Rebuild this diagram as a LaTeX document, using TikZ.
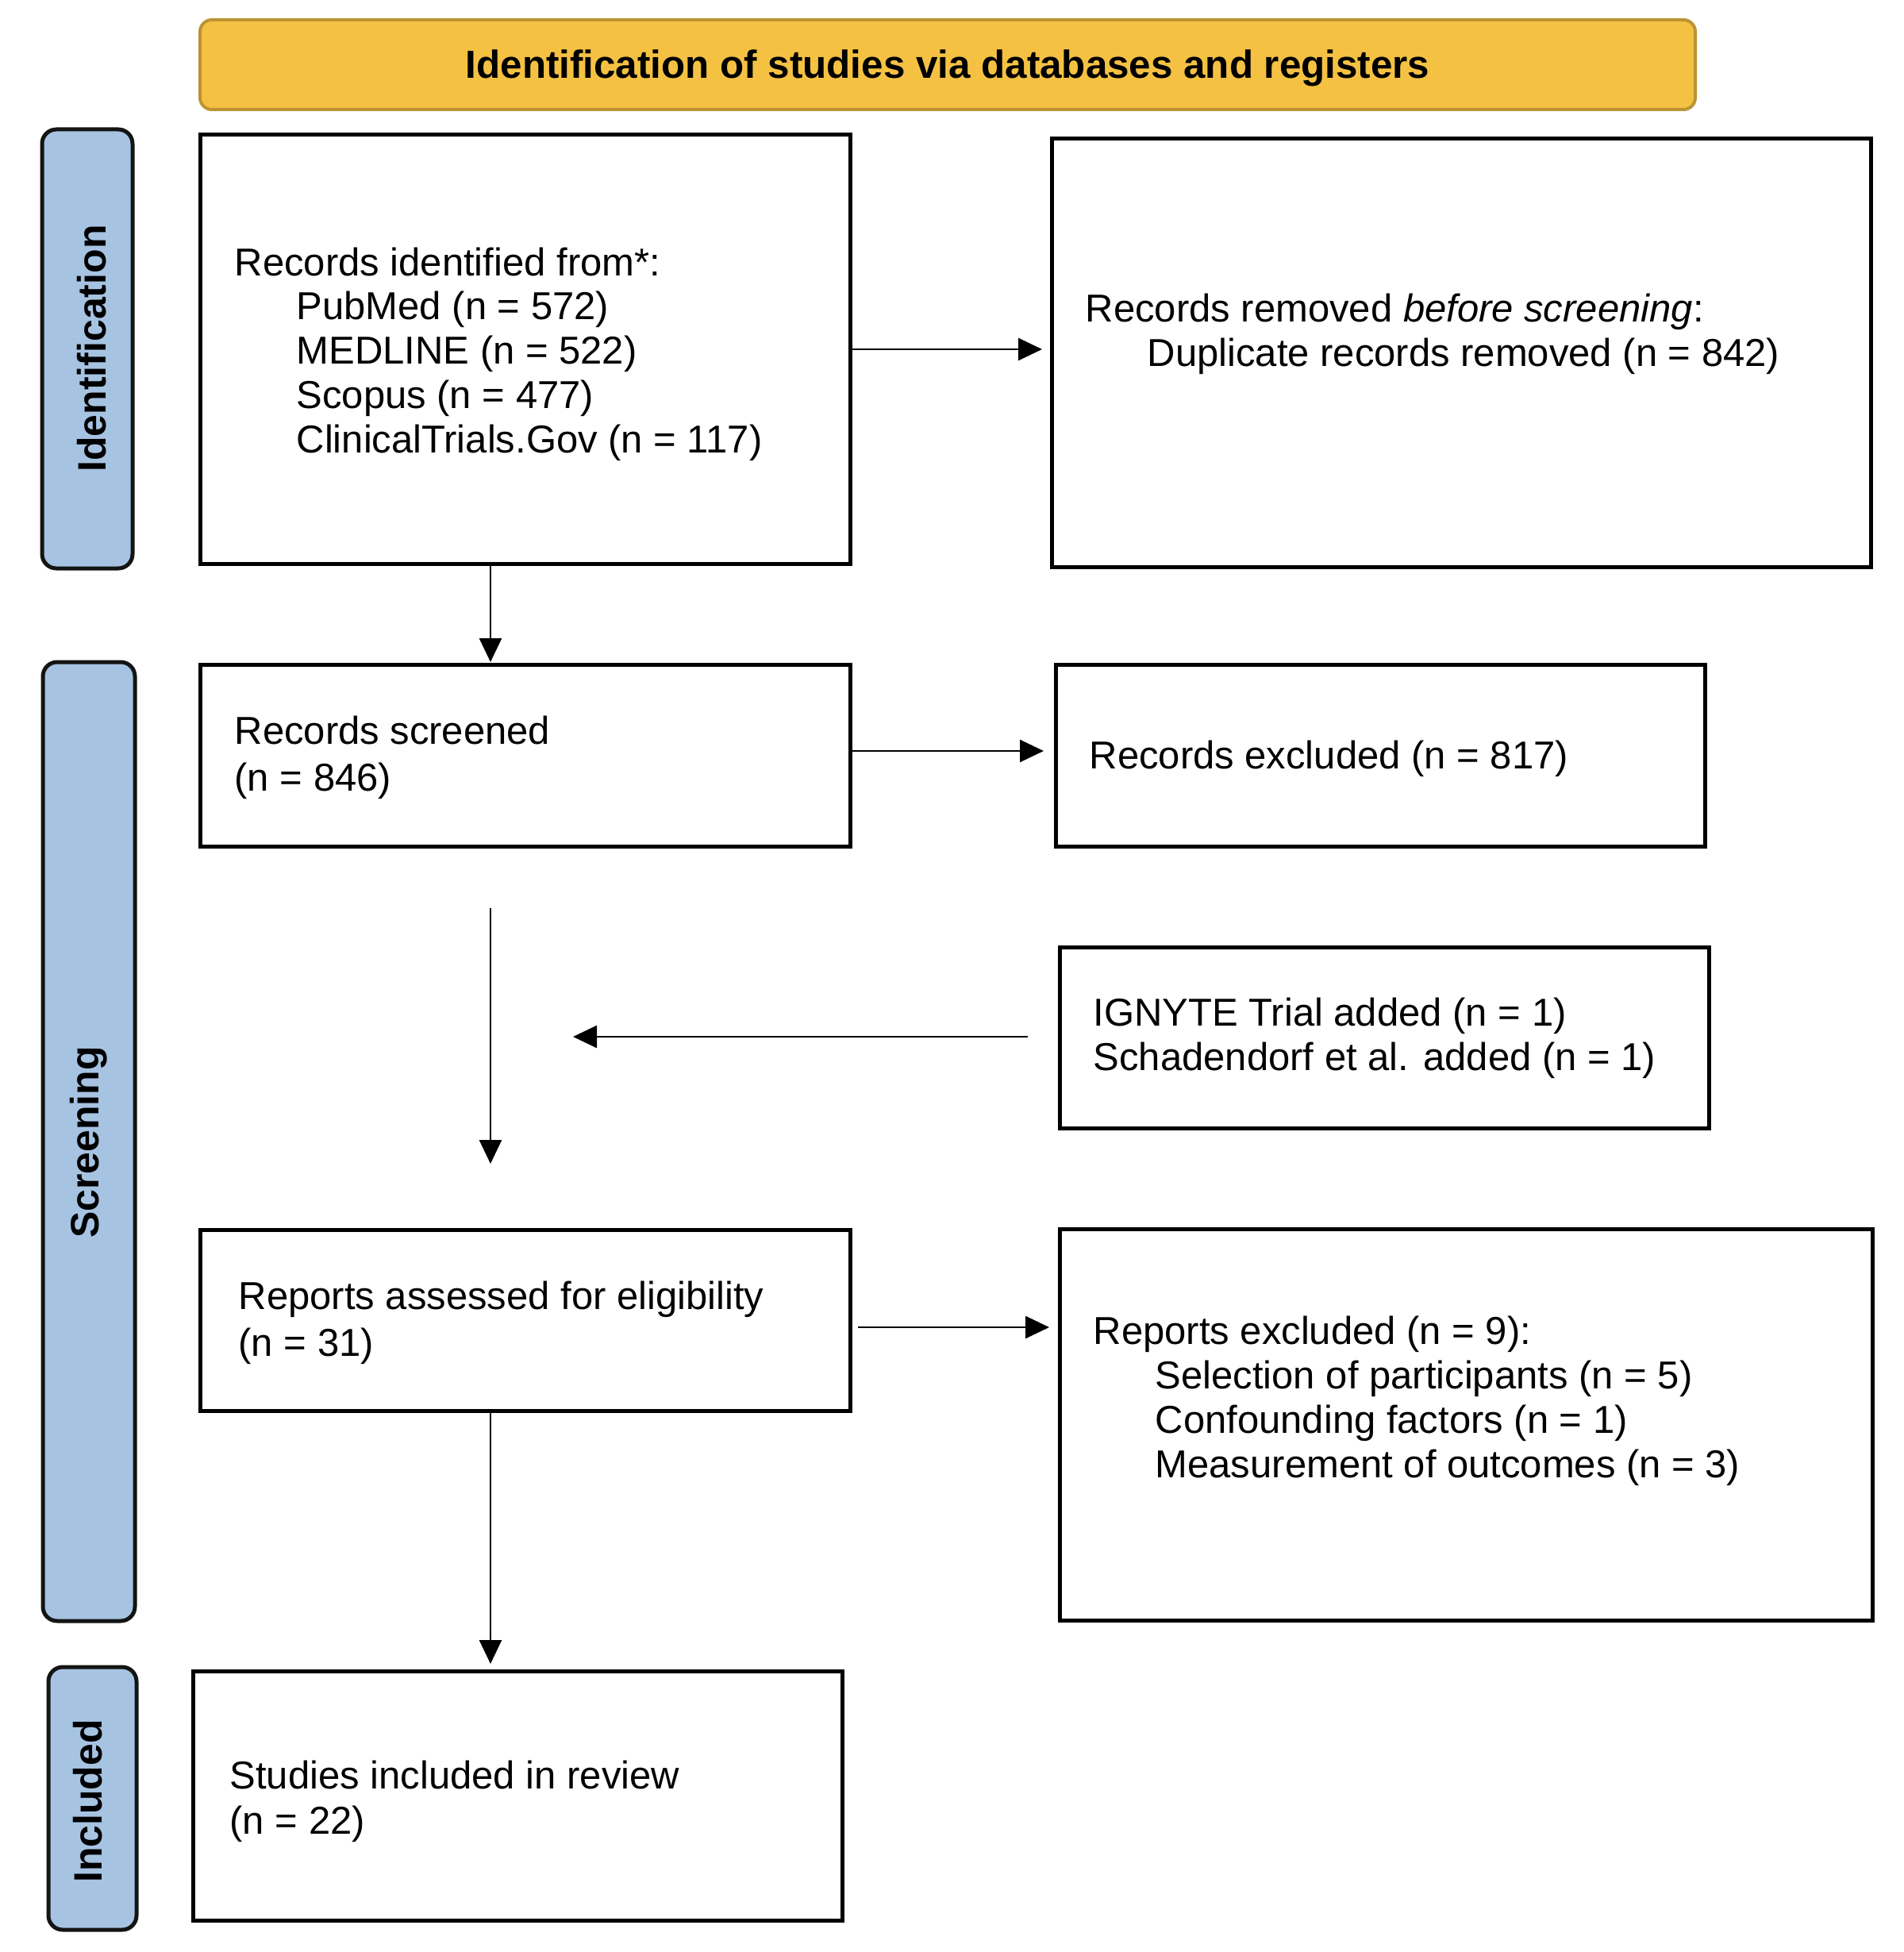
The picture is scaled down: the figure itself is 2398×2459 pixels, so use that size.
\documentclass[tikz,border=0pt]{standalone}
\usepackage{fontspec}
\setmainfont{Liberation Sans}
\usetikzlibrary{arrows.meta}
\definecolor{hdrfill}{RGB}{245,193,67}
\definecolor{hdrdraw}{RGB}{188,148,52}
\definecolor{sidefill}{RGB}{166,195,226}
\definecolor{sidedraw}{RGB}{20,20,20}
\newcommand{\ind}{\hspace*{23.4pt}}
\begin{document}
\begin{tikzpicture}[x=0.3pt,y=-0.3pt,
  every node/.style={font=\fontsize{14.7}{16.8}\selectfont},
  mainbox/.style={draw=black,line width=1.5pt,fill=white},
  sidebox/.style={draw=sidedraw,line width=1.5pt,fill=sidefill,rounded corners=5.4pt},
  hdrbox/.style={draw=hdrdraw,line width=1.2pt,fill=hdrfill,rounded corners=4.5pt},
  sidelabel/.style={rotate=90,font=\fontsize{15}{18}\selectfont\bfseries,inner sep=0pt},
  boxtext/.style={anchor=base west,inner sep=0pt},
  flow/.style={line width=0.8pt,-{Triangle[length=9pt,width=8.4pt]}}]
\useasboundingbox (0,0) rectangle (2398,2459);

% header
\path[hdrbox] (252,25) rectangle (2136,138);
\node[anchor=base,inner sep=0pt,font=\fontsize{14.8}{16.8}\selectfont\bfseries] (hdr) at (1194,99) {Identification of studies via databases and registers};

% side bars
\path[sidebox] (53,163) rectangle (167,716);
\path[sidebox] (54,834) rectangle (170,2042);
\path[sidebox] (61,2100) rectangle (172,2431);
\node[sidelabel] (sidA) at (116,439) {Identification};
\node[sidelabel] (sidB) at (112,1439) {Screening};
\node[sidelabel] (sidC) at (111,2269) {Included};

% boxes
\path[mainbox] (252,170) rectangle (1071,710) node[pos=0.5,inner sep=0pt] (b1) {};
\path[mainbox] (1325,175) rectangle (2357,714) node[pos=0.5,inner sep=0pt] (b2) {};
\path[mainbox] (252,837) rectangle (1071,1066) node[pos=0.5,inner sep=0pt] (b3) {};
\path[mainbox] (1330,837) rectangle (2148,1066) node[pos=0.5,inner sep=0pt] (b4) {};
\path[mainbox] (1335,1193) rectangle (2153,1421) node[pos=0.5,inner sep=0pt] (b5) {};
\path[mainbox] (252,1549) rectangle (1071,1777) node[pos=0.5,inner sep=0pt] (b6) {};
\path[mainbox] (1335,1548) rectangle (2359,2041) node[pos=0.5,inner sep=0pt] (b7) {};
\path[mainbox] (243,2105) rectangle (1061,2419) node[pos=0.5,inner sep=0pt] (b8) {};

% named edge points
\coordinate (b1E) at (1071,440);
\coordinate (b2W) at (1313,440);
\coordinate (b1S) at (618,710);
\coordinate (b3N) at (618,834);
\coordinate (b3E) at (1071,946);
\coordinate (b4W) at (1315,946);
\coordinate (m1) at (618,1144);
\coordinate (m2) at (618,1466);
\coordinate (b5W) at (1295,1306);
\coordinate (lt) at (722,1306);
\coordinate (b6E) at (1081,1672);
\coordinate (b7W) at (1322,1672);
\coordinate (b6S) at (618,1777);
\coordinate (b8N) at (618,2096);

% texts
\node[boxtext] (t1) at (295,347) {\begin{tabular}[t]{@{}l@{}}Records identified from*:\\
\ind PubMed (n = 572)\\ \ind MEDLINE (n = 522)\\ \ind Scopus (n = 477)\\ \ind ClinicalTrials.Gov (n = 117)\end{tabular}};
\node[boxtext] (t2) at (1367,405) {\begin{tabular}[t]{@{}l@{}}Records removed \textit{before screening}:\\
\ind Duplicate records removed (n = 842)\end{tabular}};
\node[boxtext] (t3) at (295,937) {\begin{tabular}[t]{@{}l@{}}Records screened\\[1pt] (n = 846)\end{tabular}};
\node[boxtext] (t4) at (1372,968) {Records excluded (n = 817)};
\node[boxtext] (t5) at (1377,1292) {\begin{tabular}[t]{@{}l@{}}IGNYTE Trial added (n = 1)\\ Schadendorf et al. added (n = 1)\end{tabular}};
\node[boxtext] (t6) at (300,1649) {\begin{tabular}[t]{@{}l@{}}Reports assessed for eligibility\\[1pt] (n = 31)\end{tabular}};
\node[boxtext] (t7) at (1377,1693) {\begin{tabular}[t]{@{}l@{}}Reports excluded (n = 9):\\
\ind Selection of participants (n = 5)\\ \ind Confounding factors (n = 1)\\ \ind Measurement of outcomes (n = 3)\end{tabular}};
\node[boxtext] (t8) at (289,2253) {\begin{tabular}[t]{@{}l@{}}Studies included in review\\[0.5pt] (n = 22)\end{tabular}};

% arrows
\draw[flow] (b1E) -- (b2W);
\draw[flow] (b1S) -- (b3N);
\draw[flow] (b3E) -- (b4W);
\draw[flow] (m1) -- (m2);
\draw[flow] (b5W) -- (lt);
\draw[flow] (b6E) -- (b7W);
\draw[flow] (b6S) -- (b8N);
\end{tikzpicture}
\end{document}
